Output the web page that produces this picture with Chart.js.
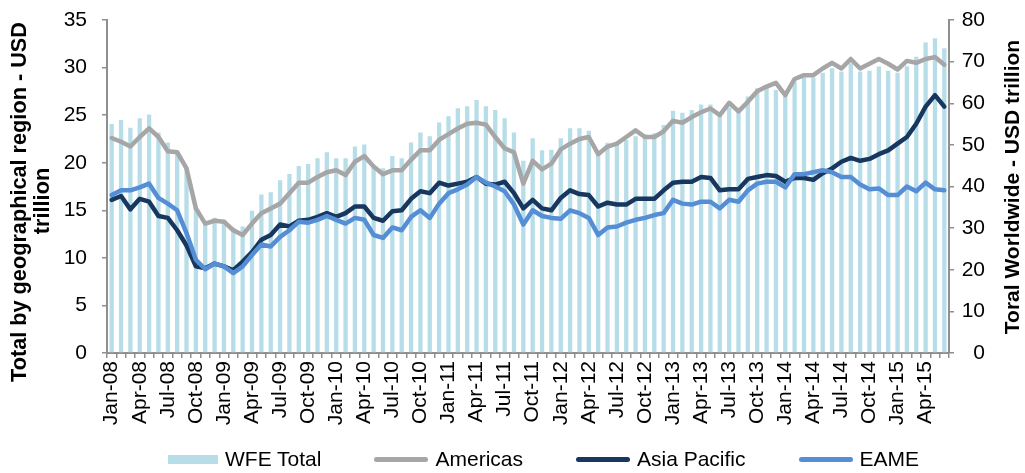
<!DOCTYPE html>
<html>
<head>
<meta charset="utf-8">
<script src="https://cdn.jsdelivr.net/npm/chart.js@4/dist/chart.umd.min.js"></script>
<style>
  body { margin: 0; background: #fff; }
  #wrap { position: relative; width: 1025px; height: 473px; }
  #legend {
    position: absolute; left: 168px; top: 446px; height: 26px;
    display: flex; align-items: center;
    font-family: "Liberation Sans", Arial, sans-serif; font-size: 21px; color: #000;
  }
  .item { display: flex; align-items: center; margin-right: 53px; }
  .item span.mark { display: inline-block; margin-right: 7px; }
</style>
</head>
<body>
<div id="wrap">
  <canvas id="wfeChart" width="1025" height="473"></canvas>
  <div id="legend"></div>
</div>
<script>
// DATA
const months = [
  "Jan-08","Feb-08","Mar-08","Apr-08","May-08","Jun-08","Jul-08","Aug-08","Sep-08","Oct-08","Nov-08","Dec-08",
  "Jan-09","Feb-09","Mar-09","Apr-09","May-09","Jun-09","Jul-09","Aug-09","Sep-09","Oct-09","Nov-09","Dec-09",
  "Jan-10","Feb-10","Mar-10","Apr-10","May-10","Jun-10","Jul-10","Aug-10","Sep-10","Oct-10","Nov-10","Dec-10",
  "Jan-11","Feb-11","Mar-11","Apr-11","May-11","Jun-11","Jul-11","Aug-11","Sep-11","Oct-11","Nov-11","Dec-11",
  "Jan-12","Feb-12","Mar-12","Apr-12","May-12","Jun-12","Jul-12","Aug-12","Sep-12","Oct-12","Nov-12","Dec-12",
  "Jan-13","Feb-13","Mar-13","Apr-13","May-13","Jun-13","Jul-13","Aug-13","Sep-13","Oct-13","Nov-13","Dec-13",
  "Jan-14","Feb-14","Mar-14","Apr-14","May-14","Jun-14","Jul-14","Aug-14","Sep-14","Oct-14","Nov-14","Dec-14",
  "Jan-15","Feb-15","Mar-15","Apr-15","May-15","Jun-15"
];

// USD trillion, right axis
const wfeTotal = [
  55.0, 56.0, 54.1, 56.4, 57.3, 53.0, 50.6, 48.4, 44.5, 35.0, 31.5, 32.5,
  32.0, 30.0, 30.4, 34.2, 38.1, 38.6, 41.5, 43.0, 44.9, 45.4, 46.8, 48.2,
  46.8, 46.8, 49.6, 50.1, 45.0, 44.4, 47.3, 46.8, 50.6, 53.0, 52.1, 55.4,
  56.9, 58.8, 59.3, 60.8, 59.3, 58.4, 56.4, 53.0, 46.2, 51.6, 48.7, 48.8,
  51.6, 54.0, 54.0, 53.4, 47.6, 50.5, 50.2, 51.2, 52.1, 52.5, 52.8, 54.8,
  58.2, 57.7, 58.4, 59.7, 59.7, 57.3, 59.0, 58.0, 61.6, 63.6, 64.0, 63.2,
  62.0, 65.2, 66.2, 66.2, 67.3, 68.4, 67.6, 69.6, 67.6, 67.8, 68.8, 67.8,
  67.3, 68.9, 71.2, 74.6, 75.6, 73.2
];

// USD trillion, left axis
const americas = [
  22.6, 22.2, 21.7, 22.7, 23.6, 22.7, 21.2, 21.1, 19.4, 15.2, 13.6, 13.9,
  13.8, 12.9, 12.4, 13.6, 14.7, 15.2, 15.7, 16.8, 17.9, 17.9, 18.5, 19.0,
  19.2, 18.7, 20.1, 20.7, 19.6, 18.8, 19.2, 19.2, 20.3, 21.3, 21.3, 22.4,
  23.0, 23.6, 24.1, 24.2, 24.0, 22.7, 21.5, 21.1, 17.8, 20.2, 19.3, 19.9,
  21.4, 22.0, 22.5, 22.7, 20.9, 21.7, 22.0, 22.7, 23.4, 22.7, 22.7, 23.3,
  24.4, 24.2, 24.8, 25.3, 25.7, 25.0, 26.3, 25.4, 26.4, 27.5, 28.0, 28.4,
  27.1, 28.8, 29.2, 29.2, 29.9, 30.5, 29.9, 30.9, 29.9, 30.4, 30.9, 30.4,
  29.8, 30.7, 30.5, 30.9, 31.1, 30.3
];

const asiaPacific = [
  16.1, 16.5, 15.1, 16.2, 15.9, 14.4, 14.2, 12.9, 11.3, 9.1, 8.9, 9.4,
  9.1, 8.7, 9.6, 10.6, 11.9, 12.4, 13.5, 13.3, 13.9, 14.0, 14.3, 14.7,
  14.3, 14.7, 15.4, 15.4, 14.2, 13.9, 14.9, 15.0, 16.2, 17.0, 16.8, 17.9,
  17.6, 17.8, 18.0, 18.5, 17.8, 17.7, 18.0, 16.8, 15.2, 16.1, 15.2, 15.0,
  16.3, 17.1, 16.7, 16.6, 15.4, 15.8, 15.6, 15.6, 16.2, 16.2, 16.2, 17.1,
  17.9, 18.0, 18.0, 18.5, 18.4, 17.1, 17.2, 17.2, 18.3, 18.5, 18.7, 18.6,
  18.0, 18.4, 18.4, 18.2, 18.9, 19.4, 20.1, 20.5, 20.2, 20.4, 20.9, 21.3,
  22.0, 22.7, 24.1, 25.9, 27.1, 25.9
];

const eame = [
  16.6, 17.1, 17.1, 17.4, 17.8, 16.3, 15.7, 15.0, 12.6, 9.8, 8.8, 9.4,
  9.1, 8.4, 9.1, 10.3, 11.4, 11.2, 12.2, 12.9, 13.8, 13.7, 14.0, 14.4,
  14.0, 13.6, 14.2, 14.0, 12.4, 12.1, 13.2, 12.9, 14.3, 15.0, 14.2, 15.7,
  16.8, 17.2, 17.7, 18.5, 17.9, 17.5, 17.0, 15.6, 13.5, 15.0, 14.4, 14.2,
  14.1, 15.0, 14.7, 14.2, 12.4, 13.2, 13.3, 13.7, 14.0, 14.2, 14.5, 14.7,
  16.1, 15.7, 15.6, 15.9, 15.9, 15.2, 16.1, 15.9, 17.1, 17.8, 18.0, 18.0,
  17.4, 18.8, 18.8, 19.0, 19.2, 19.0, 18.5, 18.5, 17.7, 17.2, 17.3, 16.6,
  16.6, 17.5, 17.0, 17.9, 17.2, 17.1
];

const leftTitle = ["Total by geographical region - USD", "trillion"];
const rightTitle = "Toral Worldwide - USD trillion";

const FONT = '"Liberation Sans", Arial, sans-serif';
const AXIS_GREY = "#8f8f8f";

// axis titles read bottom-to-top on both sides
const axisTitles = {
  id: "axisTitles",
  afterDraw(chart) {
    const ctx = chart.ctx;
    ctx.save();
    ctx.fillStyle = "#000";
    ctx.textAlign = "center";
    ctx.textBaseline = "middle";
    const put = (text, x, y) => {
      ctx.save();
      ctx.translate(x, y);
      ctx.rotate(-Math.PI / 2);
      ctx.fillText(text, 0, 0);
      ctx.restore();
    };
    ctx.font = "bold 21.7px " + FONT;
    put(leftTitle[0], 20, 202);
    put(leftTitle[1], 43, 201);
    ctx.font = "bold 21px " + FONT;
    put(rightTitle, 1013, 187);
    ctx.restore();
  }
};

const lineSet = (label, data, color, order) => ({
  type: "line",
  label: label,
  data: data,
  yAxisID: "y",
  borderColor: color,
  backgroundColor: color,
  borderWidth: 4.5,
  borderJoinStyle: "round",
  borderCapStyle: "round",
  pointRadius: 0,
  tension: 0,
  order: order
});

// fixed axis sizes so the plot area sits where the original's does
const fitY = (w) => (s) => {
  s.width = w;
  s.paddingTop = 0;
  s.paddingBottom = 0;
};

const chart = new Chart(document.getElementById("wfeChart"), {
  type: "bar",
  data: {
    labels: months,
    datasets: [
      {
        label: "WFE Total",
        data: wfeTotal,
        yAxisID: "y1",
        backgroundColor: "#b7dde8",
        barPercentage: 0.46,
        categoryPercentage: 1,
        order: 3
      },
      lineSet("Americas", americas, "#a6a6a6", 2),
      lineSet("Asia Pacific", asiaPacific, "#17375e", 1),
      lineSet("EAME", eame, "#558ed5", 0)
    ]
  },
  options: {
    responsive: false,
    animation: false,
    layout: { padding: { top: 20, left: 0, right: 40, bottom: 0 } },
    plugins: {
      legend: { display: false },
      tooltip: { enabled: false }
    },
    scales: {
      x: {
        afterFit: (s) => { s.height = 120; },
        border: { color: AXIS_GREY, width: 2 },
        grid: { drawOnChartArea: false, drawTicks: true, tickLength: 5, color: AXIS_GREY, lineWidth: 1.5 },
        ticks: {
          autoSkip: false,
          minRotation: 90,
          maxRotation: 90,
          padding: 3,
          color: "#000",
          font: { family: FONT, size: 21 },
          callback: function (value, index) {
            return index % 3 === 0 ? this.getLabelForValue(value) : "";
          }
        }
      },
      y: {
        position: "left",
        min: 0,
        max: 35,
        afterFit: fitY(107),
        border: { color: AXIS_GREY, width: 2 },
        grid: { drawOnChartArea: false, drawTicks: true, tickLength: 5, color: AXIS_GREY, lineWidth: 1.5 },
        ticks: { stepSize: 5, padding: 15, color: "#000", font: { family: FONT, size: 21 } }
      },
      y1: {
        position: "right",
        min: 0,
        max: 80,
        afterFit: fitY(36),
        border: { color: AXIS_GREY, width: 2 },
        grid: { drawOnChartArea: false, drawTicks: true, tickLength: 5, color: AXIS_GREY, lineWidth: 1.5 },
        ticks: { stepSize: 10, padding: 4, crossAlign: "far", color: "#000", font: { family: FONT, size: 21 } }
      }
    }
  },
  plugins: [axisTitles]
});

// HTML LEGEND, in series order
const legendBox = document.getElementById("legend");
chart.data.datasets.forEach((ds) => {
  const item = document.createElement("div");
  item.className = "item";
  const mark = document.createElement("span");
  mark.className = "mark";
  if (ds.type === "line") {
    mark.style.width = "54px";
    mark.style.height = "5px";
    mark.style.borderRadius = "3px";
    mark.style.background = ds.borderColor;
  } else {
    mark.style.width = "50px";
    mark.style.height = "9px";
    mark.style.background = ds.backgroundColor;
  }
  item.appendChild(mark);
  item.appendChild(document.createTextNode(ds.label));
  legendBox.appendChild(item);
});
</script>
</body>
</html>
